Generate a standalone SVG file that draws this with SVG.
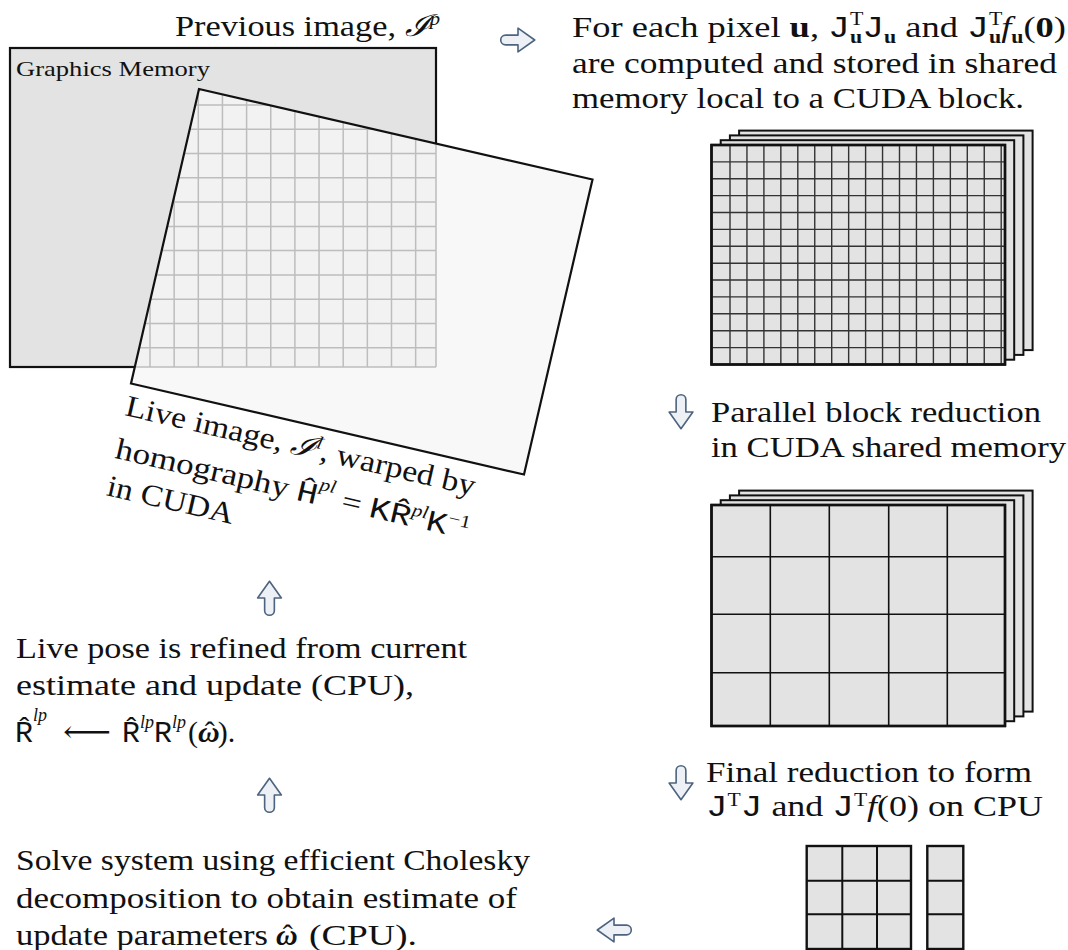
<svg xmlns="http://www.w3.org/2000/svg" width="1068" height="950" viewBox="0 0 1068 950">
<style>
text { font-family: "Liberation Serif", "DejaVu Serif", serif; font-size: 30px; fill: #111; }
.m { font-family: "Liberation Mono", "DejaVu Sans Mono", monospace; }
.s { font-size: 18px; }
.b { font-weight: bold; }
.i { font-style: italic; }
.layer { fill: #e3e3e3; stroke: #111; stroke-width: 2; }
.front { fill: #e3e3e3; stroke: #111; stroke-width: 2.4; }
.gl { fill: none; stroke: #333; stroke-width: 1.4; }
.gl2 { fill: none; stroke: #111; stroke-width: 1.6; }
.arrow { fill: #edf1f5; stroke: #4d6480; stroke-width: 1.5; stroke-linejoin: round; stroke-linecap: round; }
</style>
<defs>
<path id="arr" d="M0,-4.5 L-11.5,-4.5 A4.5,4.5 0 0 0 -11.5,4.5 L0,4.5 L0,11 L15.5,0 L0,-11 Z"/>
<clipPath id="quadclip"><polygon points="199,89 592.5,179.5 524,474.5 131,383.5"/></clipPath>
</defs>

<g id="graphics-memory">
<rect x="10" y="48" width="426" height="319" fill="#e3e3e3" stroke="#111" stroke-width="2.2"/>
<text x="16" y="76" style="font-size:22px" textLength="194" lengthAdjust="spacingAndGlyphs">Graphics Memory</text>
</g>

<g id="live-image">
<polygon points="199,89 592.5,179.5 524,474.5 131,383.5" fill="#f8f8f8"/>
<g clip-path="url(#quadclip)">
<rect x="10" y="48" width="426" height="319" fill="#f2f2f2"/>
<path fill="none" stroke="#bdbdbd" stroke-width="1.5" d="M125.85,48V367 M150,48V367 M174.15,48V367 M198.3,48V367 M222.45,48V367 M246.6,48V367 M270.75,48V367 M294.9,48V367 M319.05,48V367 M343.2,48V367 M367.35,48V367 M391.5,48V367 M415.65,48V367 M436,48V367 M10,80.7H436 M10,105H436 M10,129.3H436 M10,153.5H436 M10,177.8H436 M10,202.1H436 M10,226.4H436 M10,250.6H436 M10,274.9H436 M10,299.2H436 M10,323.4H436 M10,347.7H436 M10,367H436"/>
</g>
<polygon points="199,89 592.5,179.5 524,474.5 131,383.5" fill="none" stroke="#111" stroke-width="2.2" stroke-linejoin="miter"/>
</g>

<g id="previous-label">
<text x="175" y="36" textLength="265" lengthAdjust="spacingAndGlyphs">Previous image, <tspan class="i">ℐ</tspan><tspan class="s i" dy="-11">p</tspan></text>
</g>

<g id="live-label" transform="translate(124,415) rotate(13)">
<text x="0" y="0" textLength="358" lengthAdjust="spacingAndGlyphs">Live image, <tspan class="i">ℐ</tspan><tspan class="s i" dy="-11">l</tspan><tspan dy="11">, warped by</tspan></text>
<text x="0" y="44" textLength="362" lengthAdjust="spacingAndGlyphs">homography <tspan class="m">Ĥ</tspan><tspan class="s i" dy="-15">pl</tspan><tspan dy="15"> = </tspan><tspan class="m">KR̂</tspan><tspan class="s i" dy="-11">pl</tspan><tspan class="m" dy="11">K</tspan><tspan class="s" dy="-11">−1</tspan></text>
<text x="0" y="82" textLength="129" lengthAdjust="spacingAndGlyphs">in CUDA</text>
</g>

<g id="step1-label">
<text x="572" y="37" textLength="494" lengthAdjust="spacingAndGlyphs">For each pixel <tspan class="b">u</tspan>, <tspan class="m">J</tspan><tspan class="s" dy="-12">T</tspan><tspan class="s b" dx="-11" dy="18">u</tspan><tspan class="m" dy="-6">J</tspan><tspan class="s b" dy="6">u</tspan><tspan dy="-6"> and </tspan><tspan class="m">J</tspan><tspan class="s" dy="-12">T</tspan><tspan class="s b" dx="-11" dy="18">u</tspan><tspan class="i" dy="-6">f</tspan><tspan class="s b" dy="6">u</tspan><tspan dy="-6">(</tspan><tspan class="b">0</tspan>)</text>
<text x="572" y="73" textLength="485" lengthAdjust="spacingAndGlyphs">are computed and stored in shared</text>
<text x="572" y="108" textLength="452" lengthAdjust="spacingAndGlyphs">memory local to a CUDA block.</text>
</g>

<g id="pixel-grid">
<rect class="layer" x="739.1" y="130.6" width="293.5" height="219.5"/>
<rect class="layer" x="729.9" y="135.4" width="293.5" height="219.5"/>
<rect class="layer" x="720.7" y="140.2" width="293.5" height="219.5"/>
<rect class="front" x="711.5" y="145" width="293.5" height="219.5"/>
<path class="gl" d="M730,145V364.5 M746.95,145V364.5 M763.9,145V364.5 M780.85,145V364.5 M797.8,145V364.5 M814.75,145V364.5 M831.7,145V364.5 M848.65,145V364.5 M865.6,145V364.5 M882.55,145V364.5 M899.5,145V364.5 M916.45,145V364.5 M933.4,145V364.5 M950.35,145V364.5 M967.3,145V364.5 M984.25,145V364.5 M1001.2,145V364.5 M711.5,161.9H1005 M711.5,178.8H1005 M711.5,195.6H1005 M711.5,212.5H1005 M711.5,229.4H1005 M711.5,246.3H1005 M711.5,263.2H1005 M711.5,280H1005 M711.5,296.9H1005 M711.5,313.8H1005 M711.5,330.7H1005 M711.5,347.6H1005"/>
<rect x="711.5" y="145" width="293.5" height="219.5" fill="none" stroke="#111" stroke-width="2.4"/>
</g>

<g id="step2-label">
<text x="711" y="422" textLength="330" lengthAdjust="spacingAndGlyphs">Parallel block reduction</text>
<text x="711" y="457" textLength="355" lengthAdjust="spacingAndGlyphs">in CUDA shared memory</text>
</g>

<g id="block-grid">
<rect class="layer" x="739.1" y="490.6" width="293.5" height="221"/>
<rect class="layer" x="729.9" y="495.4" width="293.5" height="221"/>
<rect class="layer" x="720.7" y="500.2" width="293.5" height="221"/>
<rect class="front" x="711.5" y="505" width="293.5" height="221"/>
<path class="gl2" d="M770.3,505V726 M829.3,505V726 M888.7,505V726 M947.3,505V726 M711.5,556.7H1005 M711.5,614.3H1005 M711.5,672.7H1005"/>
<rect x="711.5" y="505" width="293.5" height="221" fill="none" stroke="#111" stroke-width="2.4"/>
</g>

<g id="step3-label">
<text x="706" y="782" textLength="326" lengthAdjust="spacingAndGlyphs">Final reduction to form</text>
<text x="706" y="816" textLength="337" lengthAdjust="spacingAndGlyphs"><tspan class="m">J</tspan><tspan class="s" dy="-10">T</tspan><tspan class="m" dy="10">J</tspan> and <tspan class="m">J</tspan><tspan class="s" dy="-10">T</tspan><tspan class="i" dy="10">f</tspan>(0) on CPU</text>
</g>

<g id="cpu-matrices">
<rect x="806.7" y="846" width="104.3" height="103" fill="#e3e3e3" stroke="#111" stroke-width="2.4"/>
<path d="M842.3,846V949 M877,846V949 M806.7,880.7H911 M806.7,914.3H911" fill="none" stroke="#111" stroke-width="2"/>
<rect x="927.3" y="846" width="36" height="103" fill="#e3e3e3" stroke="#111" stroke-width="2.4"/>
<path d="M927.3,880.7H963.3 M927.3,914.3H963.3" fill="none" stroke="#111" stroke-width="2"/>
</g>

<g id="step4-label">
<text x="16" y="870" textLength="514" lengthAdjust="spacingAndGlyphs">Solve system using efficient Cholesky</text>
<text x="16" y="908" textLength="501" lengthAdjust="spacingAndGlyphs">decomposition to obtain estimate of</text>
<text x="16" y="945" textLength="252" lengthAdjust="spacingAndGlyphs">update parameters</text>
<text x="276" y="945"><tspan class="b i">ω</tspan><tspan dx="-15">ˆ</tspan></text>
<text x="309" y="945" textLength="108" lengthAdjust="spacingAndGlyphs">(CPU).</text>
</g>

<g id="step5-label">
<text x="16" y="658" textLength="451" lengthAdjust="spacingAndGlyphs">Live pose is refined from current</text>
<text x="16" y="695" textLength="398" lengthAdjust="spacingAndGlyphs">estimate and update (CPU),</text>
<text x="15" y="742"><tspan class="m">R̂</tspan><tspan class="s i" dy="-21">lp</tspan></text>
<text x="63" y="742" textLength="48" lengthAdjust="spacingAndGlyphs">⟵</text>
<text x="122" y="742"><tspan class="m">R̂</tspan><tspan class="s i" dy="-14">lp</tspan><tspan class="m" dy="14">R</tspan><tspan class="s i" dy="-14">lp</tspan><tspan dy="14" dx="2">(</tspan><tspan class="b i">ω</tspan><tspan dx="-15">ˆ</tspan><tspan dx="3">).</tspan></text>
</g>

<g id="connectors">
<use href="#arr" class="arrow" transform="translate(518,40) scale(1.08)"/>
<use href="#arr" class="arrow" transform="translate(681,412) rotate(90) scale(1.08)"/>
<use href="#arr" class="arrow" transform="translate(681,783) rotate(90) scale(1.08)"/>
<use href="#arr" class="arrow" transform="translate(614,930) rotate(180) scale(1.08)"/>
<use href="#arr" class="arrow" transform="translate(269.5,598) rotate(-90) scale(1.08)"/>
<use href="#arr" class="arrow" transform="translate(269.5,795) rotate(-90) scale(1.08)"/>
</g>
</svg>
